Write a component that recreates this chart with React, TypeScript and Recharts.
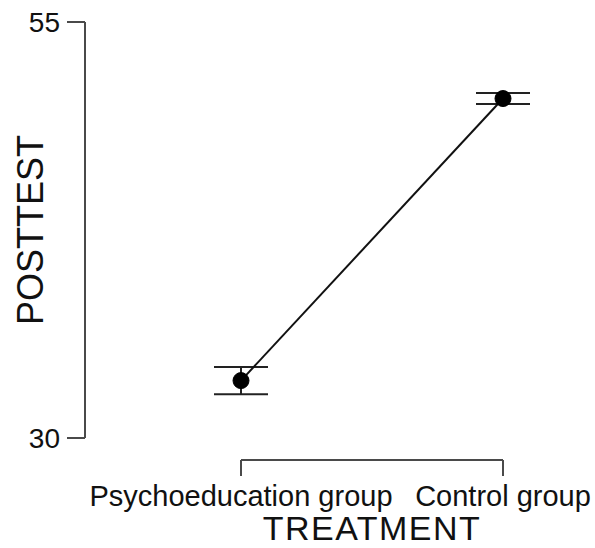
import { LineChart, Line, XAxis, YAxis, ErrorBar } from 'recharts';

const groups = ['Psychoeducation group', 'Control group'];
const posttestMeans = [33.45, 50.4];
const posttestErrors = [0.82, 0.33];
const yTicks = [30, 55];

const data = groups.map((name, i) => ({ name, mean: posttestMeans[i], err: posttestErrors[i] }));

const W = 595;
const H = 548;
const Y_AXIS_W = 85;
const X_AXIS_H = 110;
const TOP = 22;
const PAD_L = 156;
const PAD_R = 92;
const DROP = 22; // x axis sits below the plot, R style
const AXIS = '#4a4a4a';
const TEXT = '#111';
const FONT = '"Liberation Sans", Arial, sans-serif';

const spanW = W - Y_AXIS_W - PAD_L - PAD_R;

const App = () => (
  <div style={{ position: 'absolute', left: 0, top: 0 }}>
    <LineChart width={W} height={H} data={data} margin={{ top: TOP, right: 0, bottom: 0, left: 0 }} style={{ fontFamily: FONT }}>
      <XAxis
        dataKey="name"
        height={X_AXIS_H}
        padding={{ left: PAD_L, right: PAD_R }}
        axisLine={{ stroke: AXIS, strokeWidth: 2, strokeDasharray: `0 ${PAD_L} ${spanW} 2000`, transform: `translate(0, ${DROP})` }}
        tickLine={{ stroke: AXIS, strokeWidth: 2, transform: `translate(0, ${DROP})` }}
        tickSize={16}
        tickMargin={31}
        tick={{ fill: TEXT, fontSize: 29, verticalAnchor: 'start' } as any}
        interval={0}
        label={{
          content: ({ viewBox }: any) => (
            <text
              x={viewBox.x + PAD_L + spanW / 2}
              y={viewBox.y + 102}
              textAnchor="middle"
              fontSize={34}
              letterSpacing={1.5}
              fill={TEXT}
            >
              TREATMENT
            </text>
          ),
        }}
      />
      <YAxis
        width={Y_AXIS_W}
        domain={[30, 55]}
        ticks={yTicks}
        axisLine={{ stroke: AXIS, strokeWidth: 2 }}
        tickLine={{ stroke: AXIS, strokeWidth: 2 }}
        tickSize={18}
        tickMargin={7}
        tick={{ fill: TEXT, fontSize: 28 }}
        label={{
          content: ({ viewBox }: any) => {
            const cx = 43;
            const cy = viewBox.y + viewBox.height / 2;
            return (
              <text x={cx} y={cy} transform={`rotate(-90, ${cx}, ${cy})`} textAnchor="middle" fontSize={36} fill={TEXT}>
                POSTTEST
              </text>
            );
          },
        }}
      />
      <Line
        type="linear"
        dataKey="mean"
        stroke="#111"
        strokeWidth={2}
        dot={{ r: 8, fill: '#000', stroke: '#000', strokeWidth: 1 }}
        activeDot={false}
        isAnimationActive={false}
      >
        <ErrorBar dataKey="err" direction="y" width={27} stroke="#222" strokeWidth={2} isAnimationActive={false} />
      </Line>
    </LineChart>
  </div>
);

export default App;
